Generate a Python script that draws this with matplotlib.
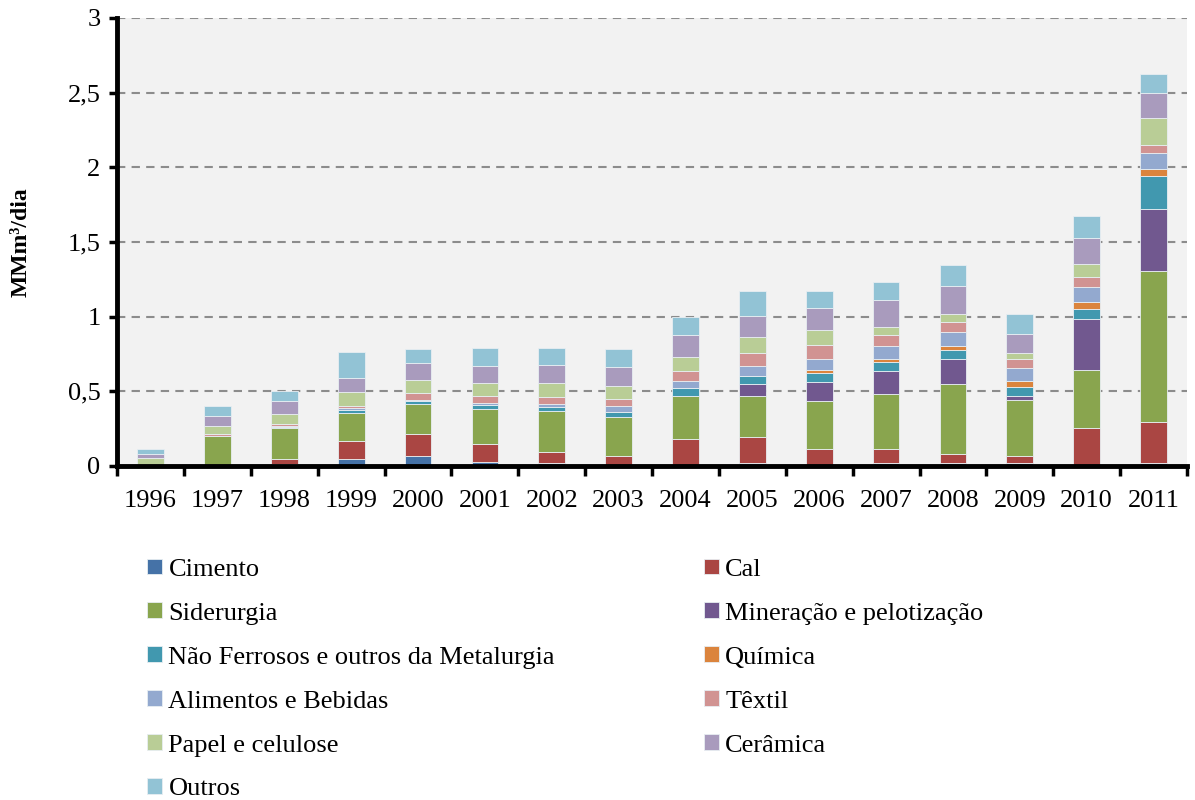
import numpy as np
import matplotlib.pyplot as plt
from matplotlib.ticker import FixedLocator, FuncFormatter

# Consumo industrial de gas natural por segmento (MMm3/dia)
anos = ['1996', '1997', '1998', '1999', '2000', '2001', '2002', '2003',
        '2004', '2005', '2006', '2007', '2008', '2009', '2010', '2011']

cimento = [0.0, 0.0, 0.013, 0.046, 0.070, 0.030, 0.023, 0.003,
           0.0, 0.017, 0.005, 0.019, 0.023, 0.019, 0.005, 0.021]
cal = [0.0, 0.0, 0.034, 0.123, 0.143, 0.116, 0.072, 0.066,
       0.182, 0.179, 0.107, 0.092, 0.058, 0.047, 0.249, 0.272]
siderurgia = [0.005, 0.200, 0.208, 0.188, 0.204, 0.237, 0.270, 0.257,
              0.285, 0.270, 0.326, 0.373, 0.466, 0.373, 0.388, 1.014]
mineracao = [0.0, 0.0, 0.0, 0.0, 0.0, 0.0, 0.0, 0.0,
             0.0, 0.082, 0.125, 0.151, 0.172, 0.029, 0.342, 0.411]
nao_ferrosos = [0.0, 0.0, 0.005, 0.015, 0.015, 0.024, 0.033, 0.038,
                0.052, 0.052, 0.058, 0.063, 0.056, 0.058, 0.067, 0.223]
quimica = [0.0, 0.0, 0.0, 0.0, 0.0, 0.0, 0.0, 0.0,
           0.0, 0.0, 0.020, 0.020, 0.027, 0.040, 0.049, 0.045]
alimentos = [0.0, 0.0, 0.009, 0.015, 0.013, 0.018, 0.018, 0.038,
             0.049, 0.072, 0.078, 0.087, 0.096, 0.092, 0.098, 0.109]
textil = [0.0, 0.013, 0.009, 0.016, 0.042, 0.045, 0.044, 0.047,
          0.067, 0.084, 0.089, 0.071, 0.069, 0.058, 0.067, 0.052]
papel = [0.050, 0.058, 0.072, 0.091, 0.090, 0.087, 0.094, 0.089,
         0.098, 0.105, 0.100, 0.056, 0.054, 0.043, 0.087, 0.183]
ceramica = [0.027, 0.062, 0.082, 0.094, 0.116, 0.111, 0.123, 0.125,
            0.143, 0.143, 0.149, 0.178, 0.183, 0.123, 0.174, 0.167]
outros = [0.035, 0.071, 0.070, 0.174, 0.092, 0.120, 0.111, 0.120,
          0.125, 0.170, 0.118, 0.125, 0.145, 0.139, 0.149, 0.130]

segmentos = [
    ('Cimento', cimento, '#4572A7'),
    ('Cal', cal, '#AA4643'),
    ('Siderurgia', siderurgia, '#89A54E'),
    ('Mineração e pelotização', mineracao, '#71588F'),
    ('Não Ferrosos e outros da Metalurgia', nao_ferrosos, '#4198AF'),
    ('Química', quimica, '#DB843D'),
    ('Alimentos e Bebidas', alimentos, '#93A9CF'),
    ('Têxtil', textil, '#D19392'),
    ('Papel e celulose', papel, '#B9CD96'),
    ('Cerâmica', ceramica, '#A99BBD'),
    ('Outros', outros, '#92C3D5'),
]

plt.rcParams['font.family'] = ['Liberation Serif', 'DejaVu Serif']

fig = plt.figure(figsize=(11.95, 8.0), dpi=100)
ax = fig.add_axes([0.098, 0.4175, 0.8953, 0.56])
ax.set_facecolor('#F2F2F2')

x = np.arange(len(anos))
base = np.zeros(len(anos))
handles = []
for nome, vals, cor in segmentos:
    b = ax.bar(x, vals, 0.4, bottom=base, color=cor, label=nome,
               edgecolor='#E8EEF2', linewidth=0.6, zorder=3)
    handles.append(b)
    base = base + np.array(vals)

# axes formatting
ax.set_xlim(-0.5, len(anos) - 0.5)
ax.set_ylim(0, 3)
ax.set_yticks(np.arange(0, 3.01, 0.5))
ax.yaxis.set_major_formatter(FuncFormatter(
    lambda v, p: ('%g' % v).replace('.', ',')))
ax.set_xticks(x)
ax.set_xticklabels(anos)
ax.xaxis.set_minor_locator(FixedLocator(np.arange(-0.5, len(anos), 1)))
ax.tick_params(axis='x', which='major', length=0, labelsize=19, pad=17)
ax.tick_params(axis='x', which='minor', length=7, width=2.5, direction='out')
ax.tick_params(axis='y', length=6, width=2.5, labelsize=19, pad=6)
ax.grid(axis='y', linestyle=(0, (4, 3)), color='#8C8C8C', linewidth=1.5, zorder=1)

for side in ['top', 'right']:
    ax.spines[side].set_visible(False)
for side in ['left', 'bottom']:
    ax.spines[side].set_linewidth(3.5)
    ax.spines[side].set_zorder(5)

ax.set_ylabel('MMm³/dia', fontsize=17, fontweight='bold', labelpad=26)

# legend in two columns, read row by row
esq = handles[0::2]
dir_ = handles[1::2]
kw = dict(frameon=False, fontsize=19, handlelength=0.55, handleheight=0.55,
          handletextpad=0.25, labelspacing=0.82, borderaxespad=0)
leg1 = fig.legend(esq, [h.get_label() for h in esq], loc='upper left',
                  bbox_to_anchor=(0.1145, 0.315), **kw)
leg2 = fig.legend(dir_, [h.get_label() for h in dir_], loc='upper left',
                  bbox_to_anchor=(0.5805, 0.315), **kw)

plt.savefig('out.png')
